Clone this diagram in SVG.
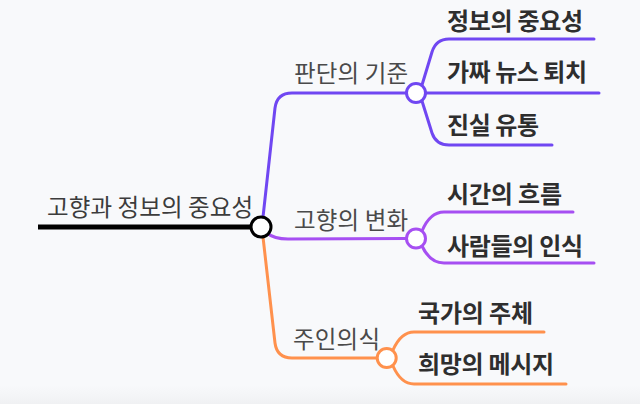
<svg xmlns="http://www.w3.org/2000/svg" width="640" height="404" viewBox="0 0 640 404">
<defs>
<linearGradient id="bg" x1="0" y1="0" x2="0" y2="1">
<stop offset="0" stop-color="#f8f9fb"/>
<stop offset="0.955" stop-color="#f8f9fb"/>
<stop offset="1" stop-color="#f0f1f3"/>
</linearGradient>
<style>
text{font-family:"Noto Sans CJK KR","Noto Sans",sans-serif}
.root{font-size:23.5px;fill:#3c3c3c}
.lbl{font-size:23.5px;fill:#4a4a4a}
.leaf{font-size:24px;font-weight:700;fill:#2e2e2e}
.c{fill:none;stroke-width:3;stroke-linecap:round;stroke-linejoin:round}
.p1{stroke:#7047f2}
.p2{stroke:#a64ff2}
.p3{stroke:#ff914d}
.n{fill:#ffffff;stroke-width:3}
</style>
</defs>
<rect width="640" height="404" fill="url(#bg)"/>
<g id="connectors">
<path class="c p1" d="M263 217 L275 108 Q277 93 292 93 L406 93"/>
<path class="c p2" d="M267 233 Q274 239 288 239 L406 238.5"/>
<path class="c p3" d="M263 237 L275 343 Q277 358 292 358 L377 358"/>
<path class="c p1" d="M422 85 L432 52 Q436 39 449 39 L594 39"/>
<path class="c p1" d="M426 93 L599 93"/>
<path class="c p1" d="M422 101 L432 133 Q436 145 449 145 L552 145"/>
<path class="c p2" d="M422 231 Q430 212 444 212 L573 212"/>
<path class="c p2" d="M422 246 Q430 263 444 263 L594 263"/>
<path class="c p3" d="M393 350 Q401 332 414 332 L544 332"/>
<path class="c p3" d="M393 366 Q401 384 414 384 L566 384"/>
<path d="M38 227 L250 227" stroke="#000" stroke-width="5" fill="none"/>
</g>
<g id="root">
<text class="root" x="47" y="216" textLength="206" lengthAdjust="spacing">고향과 정보의 중요성</text>
<circle cx="261" cy="227" r="10" fill="#fff" stroke="#000" stroke-width="3"/>
</g>
<g id="b1">
<text class="lbl" x="294" y="82" textLength="114" lengthAdjust="spacing">판단의 기준</text>
<circle class="n" cx="416" cy="93" r="9.5" stroke="#7047f2"/>
</g>
<g id="b2">
<text class="lbl" x="294" y="229" textLength="114" lengthAdjust="spacing">고향의 변화</text>
<circle class="n" cx="416" cy="238.5" r="9.5" stroke="#a64ff2"/>
</g>
<g id="b3">
<text class="lbl" x="293" y="348" textLength="87" lengthAdjust="spacing">주인의식</text>
<circle class="n" cx="386.7" cy="358" r="9.5" stroke="#ff914d"/>
</g>
<g id="l1"><text class="leaf" x="447" y="30" textLength="136" lengthAdjust="spacing">정보의 중요성</text></g>
<g id="l2"><text class="leaf" x="447" y="81" textLength="140" lengthAdjust="spacing">가짜 뉴스 퇴치</text></g>
<g id="l3"><text class="leaf" x="447" y="134" textLength="92" lengthAdjust="spacing">진실 유통</text></g>
<g id="l4"><text class="leaf" x="447" y="203" textLength="115" lengthAdjust="spacing">시간의 흐름</text></g>
<g id="l5"><text class="leaf" x="447" y="255" textLength="136" lengthAdjust="spacing">사람들의 인식</text></g>
<g id="l6"><text class="leaf" x="418" y="322" textLength="115" lengthAdjust="spacing">국가의 주체</text></g>
<g id="l7"><text class="leaf" x="418" y="373" textLength="136" lengthAdjust="spacing">희망의 메시지</text></g>
</svg>
